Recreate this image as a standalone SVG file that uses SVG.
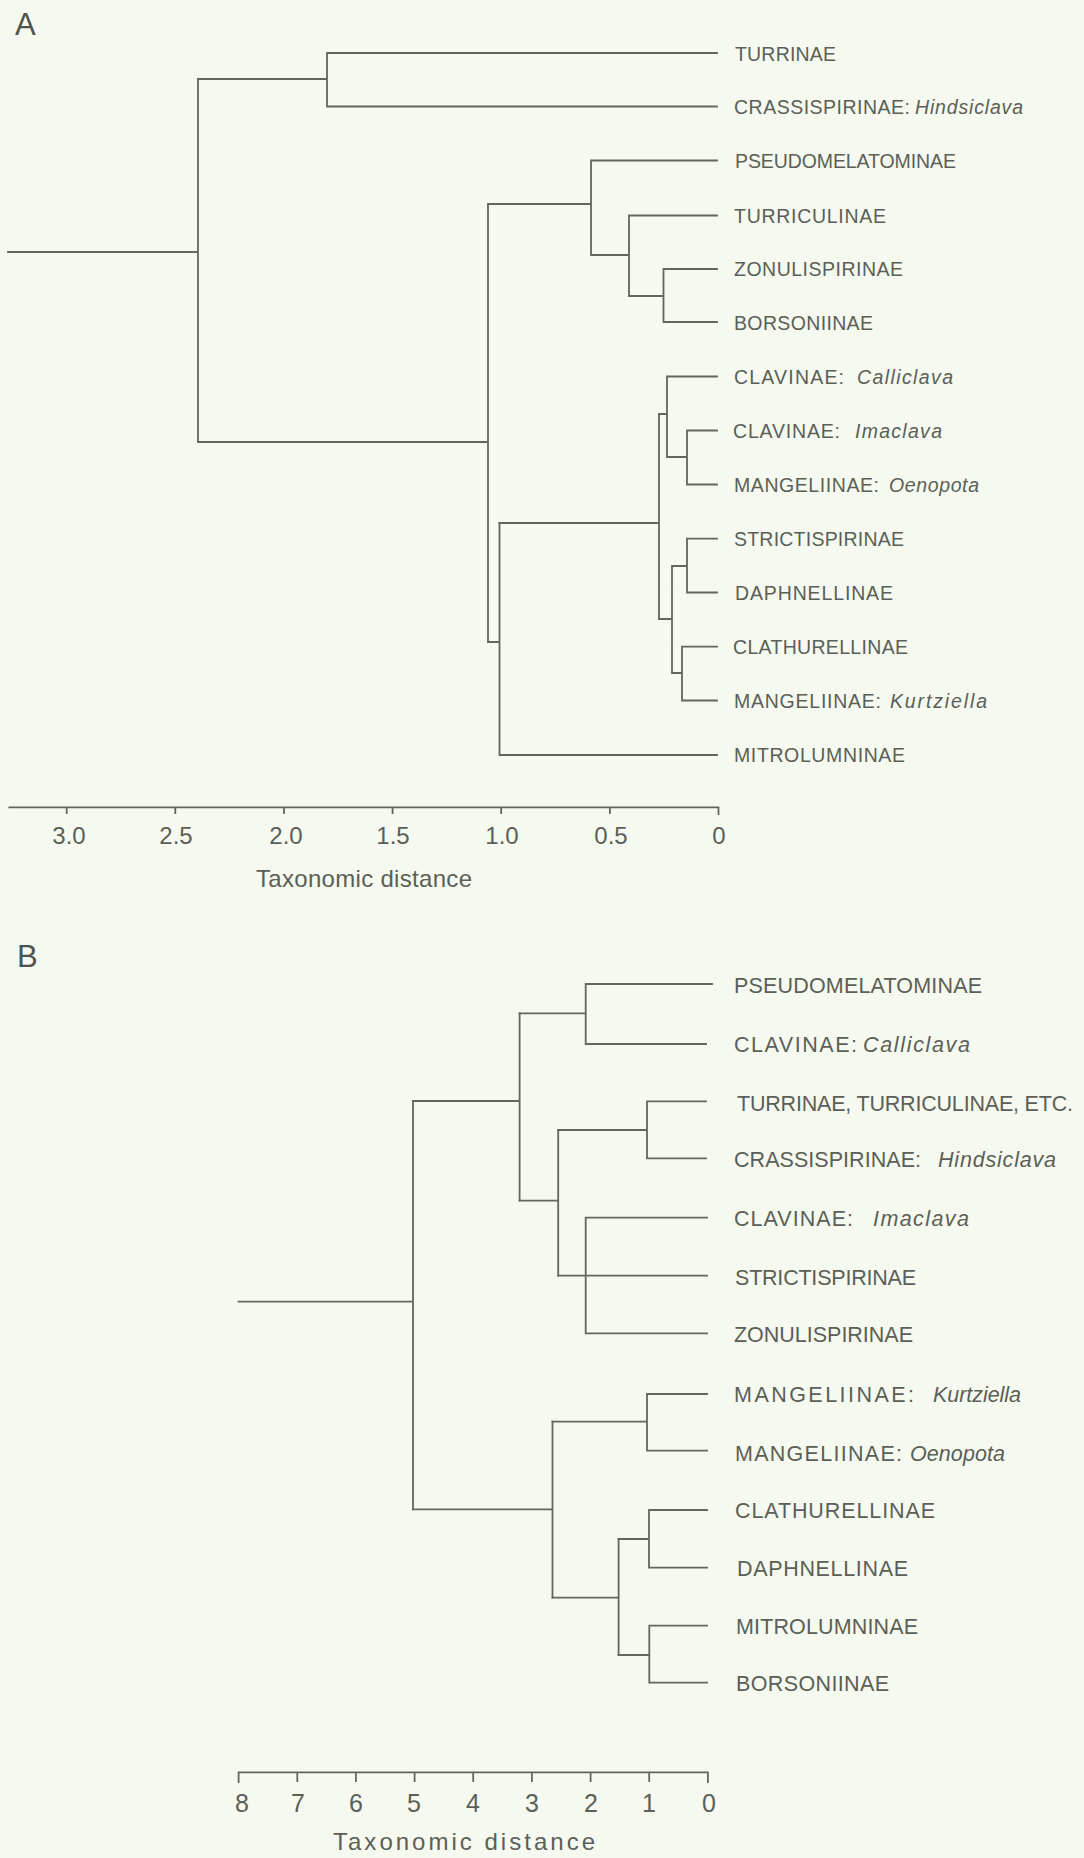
<svg xmlns="http://www.w3.org/2000/svg" width="1084" height="1858" viewBox="0 0 1084 1858">
<style>
.bg{fill:#f6f9ef}
.ln{fill:none;stroke:#62665e;stroke-width:1.8;stroke-linecap:square}
.lbA{font-family:"Liberation Sans",Arial,sans-serif;font-size:19.5px;fill:#5b5f57}
.lbB{font-family:"Liberation Sans",Arial,sans-serif;font-size:21.5px;fill:#5b5f57}
.it{font-style:italic}
.ax{font-family:"Liberation Sans",Arial,sans-serif;fill:#5b5f57;text-anchor:middle}
.ttl{font-family:"Liberation Sans",Arial,sans-serif;fill:#4f534c;font-size:31px}
.cap{font-family:"Liberation Sans",Arial,sans-serif;fill:#5b5f57;font-size:24px}
</style>
<rect class="bg" x="0" y="0" width="1084" height="1858"/>

<text id="panel-A" class="ttl" x="15" y="35">A</text>
<text id="panel-B" class="ttl" x="17" y="967">B</text>

<g id="connectors">
  <!-- Panel A -->
  <path class="ln" d="M8 252 H198 M198 79 V442"/>
  <path class="ln" d="M198 79 H327 M327 53 V106.5 M327 53 H717 M327 106.5 H717"/>
  <path class="ln" d="M198 442 H488 M488 204 V642"/>
  <path class="ln" d="M488 204 H591 M591 160.5 V255 M591 160.5 H717 M591 255 H629 M629 215.5 V296 M629 215.5 H717 M629 296 H663.5 M663.5 269 V322 M663.5 269 H717 M663.5 322 H717"/>
  <path class="ln" d="M488 642 H499.5 M499.5 523 V755 M499.5 755 H717"/>
  <path class="ln" d="M499.5 523 H659 M659 414 V619"/>
  <path class="ln" d="M659 414 H667 M667 376.5 V457 M667 376.5 H717 M667 457 H687 M687 430.5 V484.5 M687 430.5 H717 M687 484.5 H717"/>
  <path class="ln" d="M659 619 H672 M672 566 V673 M672 566 H687 M687 538.7 V592.5 M687 538.7 H717 M687 592.5 H717 M672 673 H682 M682 646.7 V700.5 M682 646.7 H717 M682 700.5 H717"/>
  <!-- Panel B -->
  <path class="ln" d="M238.5 1301.7 H413 M413 1101 V1509.3"/>
  <path class="ln" d="M413 1101 H519.6 M519.6 1013.3 V1200.7"/>
  <path class="ln" d="M519.6 1013.3 H585.7 M585.7 984 V1044 M585.7 984 H712 M585.7 1044 H706"/>
  <path class="ln" d="M519.6 1200.7 H558.2 M558.2 1130 V1275.7"/>
  <path class="ln" d="M558.2 1130 H647 M647 1101.3 V1158.3 M647 1101.3 H706 M647 1158.3 H706"/>
  <path class="ln" d="M558.2 1275.7 H707 M585.7 1217.7 V1333.3 M585.7 1217.7 H707 M585.7 1333.3 H707"/>
  <path class="ln" d="M413 1509.3 H552.5 M552.5 1421.7 V1597.7"/>
  <path class="ln" d="M552.5 1421.7 H647 M647 1394 V1450.7 M647 1394 H707 M647 1450.7 H707"/>
  <path class="ln" d="M552.5 1597.7 H618.6 M618.6 1539 V1655"/>
  <path class="ln" d="M618.6 1539 H649 M649 1510 V1567.7 M649 1510 H707 M649 1567.7 H707"/>
  <path class="ln" d="M618.6 1655 H649.3 M649.3 1625.7 V1682.7 M649.3 1625.7 H707 M649.3 1682.7 H707"/>
</g>

<g id="axis-A">
  <path class="ln" d="M9.3 807.3 H718.5 M66.7 807.3 V813 M175.3 807.3 V813 M284 807.3 V813 M392.6 807.3 V813 M501.2 807.3 V813 M609.9 807.3 V813 M718.5 807.3 V814"/>
  <g class="ax" font-size="24">
    <text x="69" y="844">3.0</text>
    <text x="176" y="844">2.5</text>
    <text x="286" y="844">2.0</text>
    <text x="393" y="844">1.5</text>
    <text x="502" y="844">1.0</text>
    <text x="611" y="844">0.5</text>
    <text x="719" y="844">0</text>
  </g>
  <text class="cap" x="256" y="887" textLength="216" lengthAdjust="spacing">Taxonomic distance</text>
</g>

<g id="axis-B">
  <path class="ln" d="M238.6 1772.3 H707.9 M238.6 1772.3 V1782 M297.3 1772.3 V1781 M355.9 1772.3 V1781 M414.6 1772.3 V1781 M473.2 1772.3 V1781 M531.9 1772.3 V1781 M590.6 1772.3 V1781 M649.2 1772.3 V1781 M707.9 1772.3 V1782"/>
  <g class="ax" font-size="25">
    <text x="242" y="1811.7">8</text>
    <text x="298" y="1811.7">7</text>
    <text x="356" y="1811.7">6</text>
    <text x="414" y="1811.7">5</text>
    <text x="473" y="1811.7">4</text>
    <text x="532" y="1811.7">3</text>
    <text x="591" y="1811.7">2</text>
    <text x="649" y="1811.7">1</text>
    <text x="709" y="1811.7">0</text>
  </g>
  <text class="cap" font-size="24.5" x="333" y="1850" textLength="262" lengthAdjust="spacing">Taxonomic distance</text>
</g>

<g id="leaves-A">
  <g id="A-turrinae"><text class="lbA" x="735" y="60.5" textLength="101" lengthAdjust="spacing">TURRINAE</text></g>
  <g id="A-crassispirinae"><text class="lbA" y="113.8"><tspan x="734" textLength="176" lengthAdjust="spacing">CRASSISPIRINAE:</tspan><tspan class="it" x="915" textLength="108" lengthAdjust="spacing">Hindsiclava</tspan></text></g>
  <g id="A-pseudomelatominae"><text class="lbA" x="735" y="167.8" textLength="221" lengthAdjust="spacing">PSEUDOMELATOMINAE</text></g>
  <g id="A-turriculinae"><text class="lbA" x="734" y="222.8" textLength="152" lengthAdjust="spacing">TURRICULINAE</text></g>
  <g id="A-zonulispirinae"><text class="lbA" x="734" y="276.3" textLength="169" lengthAdjust="spacing">ZONULISPIRINAE</text></g>
  <g id="A-borsoniinae"><text class="lbA" x="734" y="329.5" textLength="139" lengthAdjust="spacing">BORSONIINAE</text></g>
  <g id="A-clavinae-calliclava"><text class="lbA" y="384"><tspan x="734" textLength="110" lengthAdjust="spacing">CLAVINAE:</tspan><tspan class="it" x="857" textLength="96" lengthAdjust="spacing">Calliclava</tspan></text></g>
  <g id="A-clavinae-imaclava"><text class="lbA" y="438"><tspan x="733" textLength="107" lengthAdjust="spacing">CLAVINAE:</tspan><tspan class="it" x="855" textLength="87" lengthAdjust="spacing">Imaclava</tspan></text></g>
  <g id="A-mangeliinae-oenopota"><text class="lbA" y="492"><tspan x="734" textLength="145" lengthAdjust="spacing">MANGELIINAE:</tspan><tspan class="it" x="889" textLength="90" lengthAdjust="spacing">Oenopota</tspan></text></g>
  <g id="A-strictispirinae"><text class="lbA" x="734" y="546.3" textLength="170" lengthAdjust="spacing">STRICTISPIRINAE</text></g>
  <g id="A-daphnellinae"><text class="lbA" x="735" y="600" textLength="158" lengthAdjust="spacing">DAPHNELLINAE</text></g>
  <g id="A-clathurellinae"><text class="lbA" x="733" y="654.3" textLength="175" lengthAdjust="spacing">CLATHURELLINAE</text></g>
  <g id="A-mangeliinae-kurtziella"><text class="lbA" y="708.3"><tspan x="734" textLength="147" lengthAdjust="spacing">MANGELIINAE:</tspan><tspan class="it" x="890" textLength="97" lengthAdjust="spacing">Kurtziella</tspan></text></g>
  <g id="A-mitrolumninae"><text class="lbA" x="734" y="762.3" textLength="171" lengthAdjust="spacing">MITROLUMNINAE</text></g>
</g>

<g id="leaves-B">
  <g id="B-pseudomelatominae"><text class="lbB" x="734" y="993" textLength="248" lengthAdjust="spacing">PSEUDOMELATOMINAE</text></g>
  <g id="B-clavinae-calliclava"><text class="lbB" y="1052.3"><tspan x="734" textLength="123" lengthAdjust="spacing">CLAVINAE:</tspan><tspan class="it" x="863" textLength="107" lengthAdjust="spacing">Calliclava</tspan></text></g>
  <g id="B-turrinae-etc"><text class="lbB" x="737" y="1110.5" textLength="336" lengthAdjust="spacing">TURRINAE, TURRICULINAE, ETC.</text></g>
  <g id="B-crassispirinae"><text class="lbB" y="1167.3"><tspan x="734" textLength="187" lengthAdjust="spacing">CRASSISPIRINAE:</tspan><tspan class="it" x="938" textLength="118" lengthAdjust="spacing">Hindsiclava</tspan></text></g>
  <g id="B-clavinae-imaclava"><text class="lbB" y="1226.3"><tspan x="734" textLength="119" lengthAdjust="spacing">CLAVINAE:</tspan><tspan class="it" x="873" textLength="96" lengthAdjust="spacing">Imaclava</tspan></text></g>
  <g id="B-strictispirinae"><text class="lbB" x="735" y="1284.5" textLength="181" lengthAdjust="spacing">STRICTISPIRINAE</text></g>
  <g id="B-zonulispirinae"><text class="lbB" x="734" y="1342.3" textLength="179" lengthAdjust="spacing">ZONULISPIRINAE</text></g>
  <g id="B-mangeliinae-kurtziella"><text class="lbB" y="1401.5"><tspan x="734" textLength="180" lengthAdjust="spacing">MANGELIINAE:</tspan><tspan class="it" x="933" textLength="88" lengthAdjust="spacing">Kurtziella</tspan></text></g>
  <g id="B-mangeliinae-oenopota"><text class="lbB" y="1461"><tspan x="735" textLength="167" lengthAdjust="spacing">MANGELIINAE:</tspan><tspan class="it" x="910" textLength="95" lengthAdjust="spacing">Oenopota</tspan></text></g>
  <g id="B-clathurellinae"><text class="lbB" x="735" y="1518" textLength="200" lengthAdjust="spacing">CLATHURELLINAE</text></g>
  <g id="B-daphnellinae"><text class="lbB" x="737" y="1576" textLength="171" lengthAdjust="spacing">DAPHNELLINAE</text></g>
  <g id="B-mitrolumninae"><text class="lbB" x="736" y="1634" textLength="182" lengthAdjust="spacing">MITROLUMNINAE</text></g>
  <g id="B-borsoniinae"><text class="lbB" x="736" y="1691.3" textLength="153" lengthAdjust="spacing">BORSONIINAE</text></g>
</g>
</svg>
